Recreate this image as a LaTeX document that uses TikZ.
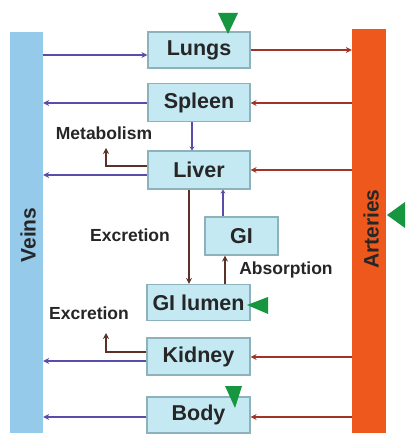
\documentclass[tikz,border=0pt]{standalone}
\usepackage{fontspec}
\setmainfont{Liberation Sans}
\usetikzlibrary{arrows.meta,calc}
\definecolor{veinc}{RGB}{150,202,235}
\definecolor{artc}{RGB}{238,88,28}
\definecolor{boxfill}{RGB}{196,233,243}
\definecolor{boxline}{RGB}{140,178,188}
\definecolor{bluel}{RGB}{88,78,170}
\definecolor{redl}{RGB}{160,52,40}
\definecolor{brownl}{RGB}{92,50,40}
\definecolor{greenm}{RGB}{22,150,62}
\begin{document}
\begin{tikzpicture}[x=1pt,y=-1pt,
  organ/.style={draw=boxline, line width=1.2pt, fill=boxfill, minimum width=102pt, inner sep=0pt, font=\bfseries\fontsize{21.5}{21.5}\selectfont, text=black!85},
  bar/.style={inner sep=0pt, minimum width=33pt},
  vessel/.style={rotate=90, font=\bfseries\fontsize{21}{21}\selectfont, text=black!85},
  lbl/.style={font=\bfseries\fontsize{17.5}{17.5}\selectfont, text=black!85, inner sep=0pt},
  bluearr/.style={draw=bluel, line width=2.2pt, -{Stealth[length=6pt,width=6pt]}},
  redarr/.style={draw=redl, line width=2.2pt, -{Stealth[length=6pt,width=6pt]}},
  brownarr/.style={draw=brownl, line width=2.4pt, -{Stealth[length=6pt,width=6pt]}},
  marker/.style={fill=greenm, draw=none}]
\useasboundingbox (0,0) rectangle (405,435);
\fill[white] (0,0) rectangle (405,435);
% bars
\node[bar, fill=veinc, minimum height=401pt] (veins) at (26.5,232.5) {};
\node[bar, fill=artc, minimum height=404pt, minimum width=34pt] (arteries) at (369,231) {};
\node[vessel] (veinsT) at (28,235) {Veins};
\node[vessel] (arteriesT) at (371,229) {Arteries};
% organs
\node[organ, minimum height=36pt] (lungs) at (199,50) {Lungs};
\node[organ, minimum height=38pt] (spleen) at (199,102.5) {Spleen};
\node[organ, minimum height=38pt] (liver) at (199,170) {Liver};
\node[organ, minimum height=38pt, minimum width=73pt] (gi) at (241.5,236) {GI};
\node[organ, minimum height=36pt, minimum width=103pt] (lumen) at (198.5,302.5) {GI lumen};
\node[organ, minimum height=37pt, minimum width=103pt] (kidney) at (198.5,356.5) {Kidney};
\node[organ, minimum height=36pt, minimum width=103pt] (body) at (198.5,415) {Body};
% labels
\node[lbl] (metab) at (104,133) {Metabolism};
\node[lbl] (excr1) at (130,235) {Excretion};
\node[lbl] (absorb) at (286,270) {Absorption};
\node[lbl] (excr2) at (89,313) {Excretion};
\coordinate (metabend) at (106,148);
\coordinate (excr2end) at (106,333);
% horizontal connectors
\draw[bluearr] (veins.east |- 0,55) -- (lungs.west |- 0,55);
\draw[redarr] (lungs.east |- 0,50) -- (arteries.west |- 0,50);
\draw[redarr] (arteries.west |- 0,103) -- (spleen.east |- 0,103);
\draw[bluearr] (spleen.west |- 0,103) -- (veins.east |- 0,103);
\draw[redarr] (arteries.west |- 0,170) -- (liver.east |- 0,170);
\draw[bluearr] (liver.west |- 0,175) -- (veins.east |- 0,175);
\draw[redarr] (arteries.west |- 0,357) -- (kidney.east |- 0,357);
\draw[bluearr] (kidney.west |- 0,361) -- (veins.east |- 0,361);
\draw[redarr] (arteries.west |- 0,417) -- (body.east |- 0,417);
\draw[bluearr] (body.west |- 0,417) -- (veins.east |- 0,417);
% vertical connectors
\draw[draw=bluel, line width=2.2pt, -{Stealth[length=4pt,width=5pt]}] (spleen.south -| 192,0) -- (liver.north -| 192,0);
\draw[draw=bluel, line width=2.2pt, -{Stealth[length=4pt,width=5pt]}] (gi.north -| 223,0) -- (liver.south -| 223,0);
\draw[brownarr] (liver.south -| 189,0) -- (lumen.north -| 189,0);
\draw[brownarr] (lumen.north -| 225,0) -- (gi.south -| 225,0);
\draw[brownarr] (liver.west |- 0,166) -| (metabend);
\draw[brownarr] (kidney.west |- 0,352) -| (excr2end);
% green markers
\fill[marker] (218,13) -- (238,13) -- (228,34) -- cycle;
\fill[marker] (387,215) -- (405,202) -- (405,228) -- cycle;
\fill[marker] (247,305) -- (268,297) -- (268,314) -- cycle;
\fill[marker] (225,386) -- (242,386) -- (235,408) -- cycle;
\end{tikzpicture}
\end{document}
